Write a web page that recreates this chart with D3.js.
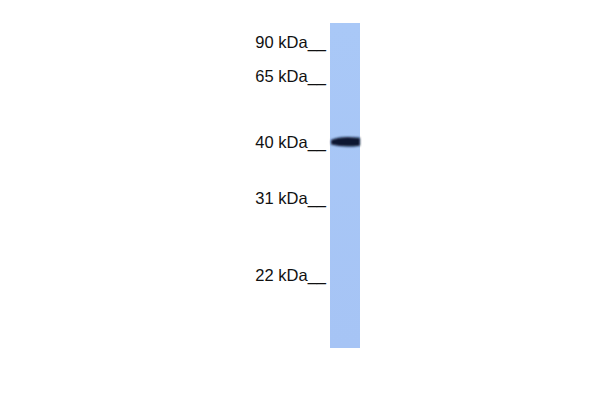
<!DOCTYPE html>
<html>
<head>
<meta charset="utf-8">
<script src="https://cdn.jsdelivr.net/npm/d3@7"></script>
<style>
  body { margin: 0; background: #fff; }
  svg { display: block; }
  .marker text { font-family: "Liberation Sans", Arial, sans-serif; font-size: 16.5px; fill: #111; }
</style>
</head>
<body>
<div id="blot"></div>
<script>
'use strict';

// marker ladder (kDa) and their relative migration down the lane (0 = well, 1 = lane end)
var markerKDa = [90, 65, 40, 31, 22];
var markerRf = [0.089, 0.194, 0.397, 0.569, 0.806];
var markerLabels = ["90 kDa", "65 kDa", "40 kDa", "31 kDa", "22 kDa"];

// detected bands: size in kDa and relative intensity
var bandKDa = [44];
var bandIntensity = [1];

var width = 600, height = 400;
var lane = {x: 330, y: 23, w: 30, h: 325};

var svg = d3.select("#blot").append("svg")
  .attr("width", width).attr("height", height);

var defs = svg.append("defs");
defs.append("filter").attr("id", "soft")
  .attr("x", "-20%").attr("y", "-50%").attr("width", "140%").attr("height", "200%")
  .append("feGaussianBlur").attr("stdDeviation", 0.8);

var laneGrad = defs.append("linearGradient").attr("id", "laneGrad")
  .attr("x1", 0).attr("x2", 0).attr("y1", 0).attr("y2", 1);
laneGrad.append("stop").attr("offset", "0%").attr("stop-color", "#a9c8f7");
laneGrad.append("stop").attr("offset", "100%").attr("stop-color", "#a6c4f5");

// relative migration -> pixel position
var rfScale = d3.scaleLinear().domain([0, 1]).range([lane.y, lane.y + lane.h]);
// kDa -> pixel, piecewise through the ladder
var yScale = d3.scaleLinear()
  .domain(markerKDa)
  .range(markerRf.map(rfScale));

// lane
svg.append("rect")
  .attr("x", lane.x).attr("y", lane.y)
  .attr("width", lane.w).attr("height", lane.h)
  .attr("fill", "url(#laneGrad)");

// bands
var bands = svg.append("g").attr("class", "bands").attr("filter", "url(#soft)");
bands.selectAll("path").data(bandKDa).enter().append("path")
  .attr("d", function (d) {
    var cy = yScale(d) + 0.5, x0 = lane.x + 1, x1 = lane.x + lane.w;
    return "M" + x0 + "," + (cy - 2) +
      "Q" + (x0 + 8) + "," + (cy - 5.5) + " " + (x1 - 8) + "," + (cy - 4.8) +
      "L" + x1 + "," + (cy - 4.3) +
      "L" + x1 + "," + (cy + 3.8) +
      "Q" + (x0 + 12) + "," + (cy + 6) + " " + x0 + "," + (cy + 2.5) + "Z";
  })
  .attr("fill", "#0b1830")
  .attr("fill-opacity", function (d, i) { return bandIntensity[i]; });

// marker labels with tick underscores
var markers = svg.append("g").attr("class", "marker");
markers.selectAll("text").data(markerKDa).enter().append("text")
  .attr("x", 326)
  .attr("y", function (d) { return yScale(d) - 4; })
  .attr("text-anchor", "end")
  .text(function (d, i) { return markerLabels[i] + "__"; });
</script>
</body>
</html>
